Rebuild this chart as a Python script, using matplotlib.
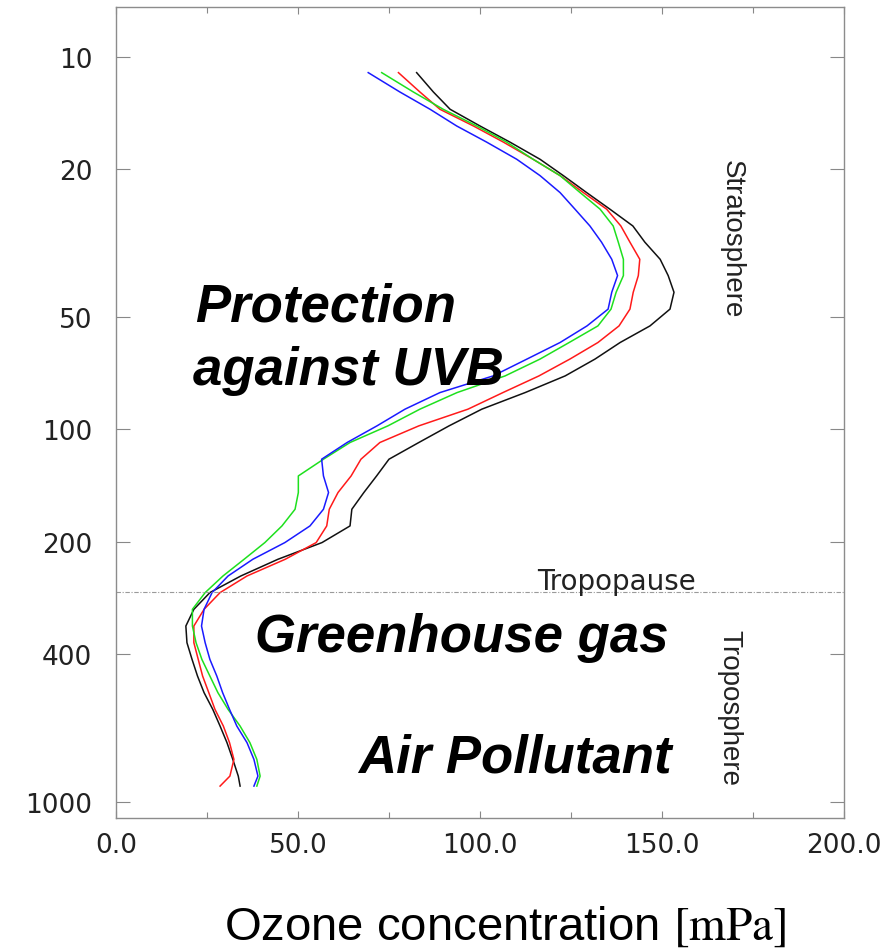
import matplotlib
matplotlib.use("Agg")
import matplotlib.pyplot as plt
from matplotlib.ticker import MultipleLocator, FormatStrFormatter, NullLocator

# pressure levels (hPa) at which the four soundings were read
pressure = [11.0, 12.4, 13.8, 15.3, 16.9, 18.8, 20.8, 23.1, 25.6, 28.4,
            31.4, 34.9, 38.6, 42.8, 47.5, 52.7, 58.4, 64.7, 71.8, 79.6,
            88.2, 97.8, 108.4, 120.2, 133.3, 147.7, 163.8, 181.6, 201.3, 223.2,
            247.5, 274.3, 304.2, 337.3, 373.9, 414.6, 459.6, 509.3, 564.9, 626.3,
            694.1, 769.7, 853.4, 907.8]

# ozone partial pressure (mPa) for each sounding
black = [82.6, 87.2, 91.8, 100.0, 108.2, 116.5, 122.9, 129.3, 135.7, 142.0,
         145.3, 149.5, 151.7, 153.3, 152.2, 146.7, 138.5, 131.6, 123.4, 112.4,
         100.5, 91.5, 83.2, 75.0, 71.6, 68.1, 64.8, 64.3, 56.6, 44.5,
         34.3, 25.8, 21.4, 19.2, 19.5, 20.9, 22.4, 24.2, 26.6, 28.6,
         30.5, 32.1, 33.6, 34.1]
red = [77.6, 83.5, 89.0, 98.2, 106.4, 114.6, 122.0, 128.4, 134.8, 138.7,
       141.2, 143.9, 143.5, 142.1, 141.2, 138.2, 132.4, 124.7, 116.2, 106.3,
       96.7, 83.2, 72.5, 67.3, 64.6, 61.0, 58.6, 57.9, 55.0, 46.5,
       36.0, 28.6, 24.2, 21.4, 21.4, 22.6, 23.8, 25.5, 27.2, 29.5,
       31.2, 32.4, 31.3, 28.6]
green = [73.0, 81.7, 89.9, 99.1, 107.3, 114.6, 122.0, 127.5, 133.0, 136.6,
         138.0, 139.4, 139.4, 137.4, 136.0, 132.4, 124.5, 116.5, 106.9, 93.7,
         83.5, 74.7, 64.3, 57.0, 50.1, 50.1, 49.2, 45.6, 40.9, 35.2,
         29.4, 24.5, 21.0, 21.0, 22.0, 23.6, 25.8, 28.0, 30.8, 34.1,
         36.8, 38.7, 39.6, 38.7]
blue = [69.3, 78.0, 86.3, 93.6, 101.8, 110.1, 116.5, 122.0, 126.1, 130.2,
        133.4, 136.2, 137.8, 136.2, 135.2, 129.4, 122.0, 112.9, 103.6, 89.0,
        79.4, 71.7, 63.5, 56.5, 57.0, 58.4, 57.0, 53.3, 46.4, 37.6,
        30.8, 26.4, 24.2, 23.5, 24.5, 25.8, 27.7, 29.3, 31.2, 33.2,
        36.0, 37.9, 39.0, 37.9]

p_ticks = [10, 20, 50, 100, 200, 400, 1000]
tropopause_p = 274

plt.rcParams['mathtext.fontset'] = 'stix'

fig = plt.figure(figsize=(8.9, 9.53), dpi=100)
ax = fig.add_axes([0.1303, 0.1406, 0.818, 0.851])

for vals, col in [(black, '#111111'), (red, '#ff1a1a'), (green, '#1ee01e'), (blue, '#1a1aff')]:
    ax.plot(vals, pressure, color=col, lw=1.1)

ax.axhline(tropopause_p, color='#9a9a9a', lw=0.8, ls=(0, (4, 1.5, 1, 1.5)))

ax.set_yscale('log')
ax.set_ylim(1106, 7.33)
ax.set_xlim(0, 200)
ax.set_yticks(p_ticks, labels=[str(p) for p in p_ticks])
ax.yaxis.set_minor_locator(NullLocator())
ax.xaxis.set_major_locator(MultipleLocator(50))
ax.xaxis.set_minor_locator(MultipleLocator(25))
ax.xaxis.set_major_formatter(FormatStrFormatter('%.1f'))

ax.tick_params(axis='y', which='major', direction='in', length=10, width=0.8,
               color='#888888', left=True, right=True, pad=17,
               labelsize=19, labelcolor='#222222')
ax.tick_params(axis='x', which='major', direction='in', length=5, width=0.8,
               color='#888888', top=True, bottom=True, pad=10,
               labelsize=19, labelcolor='#222222')
ax.tick_params(axis='x', which='minor', direction='in', length=4, width=0.8,
               color='#888888', top=True, bottom=True)
for lab in ax.get_xticklabels() + ax.get_yticklabels():
    lab.set_family('DejaVu Sans')
for sp in ax.spines.values():
    sp.set_color('#8c8c8c')
    sp.set_linewidth(1.0)

# region labels
big = dict(fontsize=38, weight='bold', style='italic', family='Liberation Sans',
           va='baseline', ha='left', color='black')
ax.text(21.7, 51.1, 'Protection', **big)
ax.text(21.2, 75.5, 'against UVB', **big)
ax.text(38.2, 393.6, 'Greenhouse gas', **big)
ax.text(66.5, 827, 'Air Pollutant', **big)

ax.text(169.2, 30.7, 'Stratosphere', rotation=270, ha='center', va='center',
        fontsize=20, family='Liberation Sans', color='#222222')
ax.text(168.4, 555, 'Troposphere', rotation=270, ha='center', va='center',
        fontsize=20, family='Liberation Sans', color='#222222')
ax.text(115.7, 268.2, 'Tropopause', ha='left', va='baseline',
        fontsize=20, family='DejaVu Sans', color='#222222')

fig.text(505 / 890, 13 / 953, r'Ozone concentration $\mathrm{[mPa]}$',
         ha='center', va='baseline', fontsize=34, family='Liberation Sans')

fig.savefig('out.png', dpi=100)
